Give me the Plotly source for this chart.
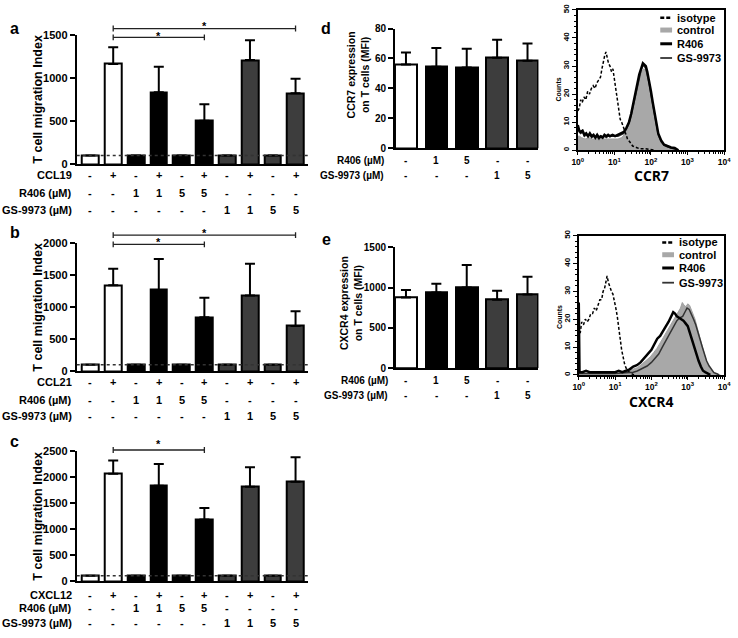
import plotly.graph_objects as go

W, H = 738, 638
FONT = "Liberation Sans, Arial, sans-serif"

# ---------------- data ----------------
bars10 = [0, 1, 2, 3, 4, 5, 6, 7, 8, 9]
bars5 = [0, 1, 2, 3, 4]
colors10 = ["white", "white", "black", "black", "black", "black", "#3d3d3d", "#3d3d3d", "#3d3d3d", "#3d3d3d"]
colors5 = ["white", "black", "black", "#3d3d3d", "#3d3d3d"]

chemokine_row = ["-", "+", "-", "+", "-", "+", "-", "+", "-", "+"]
r406_row10 = ["-", "-", "1", "1", "5", "5", "-", "-", "-", "-"]
gs_row10 = ["-", "-", "-", "-", "-", "-", "1", "1", "5", "5"]
r406_row5 = ["-", "1", "5", "-", "-"]
gs_row5 = ["-", "-", "-", "1", "5"]

a_vals = [100, 1168, 100, 836, 100, 504, 100, 1214, 100, 824]
a_err = [None, 195, None, 298, None, 194, None, 229, None, 172]
b_vals = [100, 1343, 100, 1272, 100, 841, 100, 1184, 100, 707]
b_err = [None, 261, None, 486, None, 308, None, 497, None, 231]
c_vals = [100, 2070, 100, 1837, 100, 1187, 100, 1818, 100, 1913]
c_err = [None, 254, None, 423, None, 221, None, 379, None, 474]
d_vals = [56, 54.5, 54, 60.5, 58.5]
d_err = [8, 12.5, 12.5, 12, 11.5]
e_vals = [878, 938, 1000, 848, 915]
e_err = [92, 110, 282, 112, 220]

# histogram CCR7 (log10 fluorescence, counts)
iso_d_exp = [0.00, 0.04, 0.08, 0.12, 0.17, 0.22, 0.27, 0.32, 0.37, 0.42, 0.47, 0.52, 0.57, 0.62, 0.66, 0.70, 0.74, 0.77, 0.80, 0.84, 0.88, 0.92, 0.96, 1.00, 1.04, 1.08, 1.12, 1.16, 1.20, 1.25, 1.30, 1.36, 1.42, 1.50, 1.60, 1.70, 1.85, 2.00, 2.10]
iso_d_cnt = [14, 15, 18, 17, 19, 18, 21, 20, 22, 23, 22, 24, 25, 26, 29, 32, 34, 35, 33, 31, 30, 28, 29, 25, 22, 18, 14, 11, 10, 8, 6, 4, 3, 1.5, 1, 0.5, 0.5, 0.3, 0]
ctl_d_exp = [0.00, 0.05, 0.10, 0.20, 0.30, 0.40, 0.50, 0.60, 0.70, 0.80, 0.90, 1.00, 1.10, 1.20, 1.30, 1.38, 1.45, 1.52, 1.58, 1.64, 1.70, 1.75, 1.80, 1.85, 1.90, 1.95, 2.00, 2.05, 2.10, 2.15, 2.20, 2.28, 2.36, 2.45, 2.55, 2.65, 2.72]
ctl_d_cnt = [5, 5, 4.5, 4, 4.5, 4, 4, 4.5, 4, 4, 4, 4, 4, 4.5, 6, 8, 11, 15, 19, 23, 26, 28, 29, 28.5, 27, 24, 20, 16, 12, 9, 6, 3.5, 2, 1.2, 1, 0.6, 0]
r406_d_exp = [0.00, 0.04, 0.08, 0.13, 0.18, 0.23, 0.28, 0.33, 0.38, 0.43, 0.48, 0.53, 0.58, 0.63, 0.68, 0.73, 0.78, 0.83, 0.88, 0.95, 1.02, 1.10, 1.18, 1.26, 1.33, 1.40, 1.46, 1.52, 1.58, 1.63, 1.68, 1.73, 1.78, 1.82, 1.86, 1.90, 1.95, 2.00, 2.05, 2.10, 2.15, 2.20, 2.28, 2.36, 2.45, 2.55, 2.65, 2.75]
r406_d_cnt = [9, 7, 6.5, 7, 5.5, 6, 5, 6, 5, 5.5, 4.5, 5.5, 4.5, 5, 4.5, 5.5, 5, 5.5, 5, 5.5, 5, 5.5, 6, 6.5, 8, 10, 13, 17, 21, 24, 27, 29, 31, 30.5, 30, 28, 25, 21, 17, 13, 9, 6, 3.5, 2, 1.5, 1, 0.8, 0]
gs_d_exp = [0.00, 0.04, 0.08, 0.13, 0.18, 0.23, 0.28, 0.33, 0.38, 0.43, 0.48, 0.53, 0.58, 0.63, 0.68, 0.73, 0.78, 0.83, 0.88, 0.95, 1.02, 1.10, 1.18, 1.26, 1.33, 1.40, 1.46, 1.52, 1.58, 1.63, 1.68, 1.73, 1.78, 1.82, 1.86, 1.90, 1.95, 2.00, 2.05, 2.10, 2.15, 2.20, 2.28, 2.36, 2.45, 2.55, 2.65, 2.75]
gs_d_cnt = [8, 6.5, 6, 6.5, 5, 5.5, 5, 5.5, 4.5, 5, 4.5, 5, 4, 5, 4.5, 5, 4.5, 5, 5, 5, 5, 5, 5.5, 6, 7.5, 9.5, 12.5, 16, 20, 23, 26, 28.5, 30, 30, 29, 27, 24, 20, 16, 12, 8.5, 5.5, 3, 1.8, 1.2, 0.8, 0.5, 0]

# histogram CXCR4
iso_e_exp = [0.00, 0.04, 0.08, 0.13, 0.18, 0.23, 0.28, 0.33, 0.38, 0.43, 0.48, 0.53, 0.58, 0.63, 0.67, 0.71, 0.75, 0.78, 0.82, 0.86, 0.90, 0.94, 0.98, 1.02, 1.06, 1.10, 1.14, 1.18, 1.22, 1.26, 1.30, 1.35, 1.42, 1.52]
iso_e_cnt = [17, 15, 19, 18, 20, 19, 20, 22, 22, 24, 23, 25, 27, 27, 30, 31, 34, 35.5, 33, 31, 30, 29, 27, 24, 21, 16, 13, 9, 6, 4, 2.5, 1.5, 0.7, 0]
ctl_e_exp = [0.0, 0.5, 1.0, 1.2, 1.35, 1.5, 1.61, 1.75, 1.88, 1.97, 2.06, 2.15, 2.24, 2.33, 2.42, 2.51, 2.6, 2.68, 2.74, 2.8, 2.85, 2.9, 2.95, 3.0, 3.05, 3.1, 3.15, 3.2, 3.26, 3.32, 3.38, 3.45, 3.52, 3.59, 3.68, 3.77, 3.9]
ctl_e_cnt = [0.5, 0.5, 0.5, 0.8, 1.4, 2, 2.6, 4, 5.5, 6.5, 8, 9.5, 11.5, 13.5, 16, 18, 19.5, 21.5, 23, 24, 26, 25, 24.5, 25.5, 25, 23.5, 22, 20, 17, 14, 10.5, 7, 4.5, 2.6, 1.2, 0.6, 0]
r406_e_exp = [0.00, 0.02, 0.10, 0.20, 0.30, 0.40, 0.50, 0.60, 0.70, 0.80, 0.90, 1.00, 1.10, 1.20, 1.30, 1.40, 1.50, 1.60, 1.70, 1.80, 1.90, 2.00, 2.08, 2.16, 2.24, 2.32, 2.40, 2.47, 2.54, 2.60, 2.65, 2.70, 2.76, 2.82, 2.88, 2.94, 3.00, 3.06, 3.12, 3.18, 3.24, 3.30, 3.36, 3.42, 3.48, 3.55, 3.62]
r406_e_cnt = [26, 1, 1, 1.5, 1, 1, 1, 1, 1, 1, 1, 1, 1.5, 1, 1.5, 2, 3, 3.5, 4.5, 6, 7.5, 9, 11, 13, 14, 16, 17.5, 19, 21, 22.5, 22, 21, 20.5, 20, 19.5, 18.5, 17.5, 15, 12.5, 10, 7, 5, 3, 1.5, 1, 0.5, 0]
gs_e_exp = [0.0, 0.5, 1.0, 1.3, 1.5, 1.61, 1.75, 1.88, 2.0, 2.1, 2.2, 2.3, 2.4, 2.5, 2.6, 2.7, 2.78, 2.86, 2.92, 2.98, 3.04, 3.1, 3.16, 3.22, 3.28, 3.34, 3.4, 3.46, 3.52, 3.59, 3.66, 3.72, 3.8, 3.86]
gs_e_cnt = [0.5, 0.5, 0.5, 0.8, 1, 1.4, 2.2, 3.2, 4.5, 6, 7.5, 10, 12.5, 15, 17.5, 19.5, 20.5, 21, 22.5, 24, 23.5, 22, 20, 18, 15, 12.5, 10, 7.5, 5, 3.2, 1.8, 0.8, 0.4, 0]

hist_legend = ["isotype", "control", "R406", "GS-9973"]
decade_vals = [1, 10, 100, 1000, 10000]
decade_labels = ["10<sup>0</sup>", "10<sup>1</sup>", "10<sup>2</sup>", "10<sup>3</sup>", "10<sup>4</sup>"]


# ---------------- helpers ----------------
def X(px):
    return px / W


def Y(py):
    return 1 - py / H


def f(size, family=FONT):
    return dict(family=family, size=size, color="black", weight="bold")


fig = go.Figure()
annotations = []
shapes = []


def bar_panel(n, xs, vals, errs, colors, width):
    xa = "x" if n == 1 else f"x{n}"
    ya = "y" if n == 1 else f"y{n}"
    fig.add_trace(go.Bar(
        x=xs, y=vals, width=width, xaxis=xa, yaxis=ya, showlegend=False,
        marker=dict(color=colors, line=dict(color="black", width=2)),
        error_y=dict(type="data", symmetric=False, array=errs,
                     arrayminus=[0] * len(xs), thickness=2, width=5, color="black"),
    ))


bar_panel(1, bars10, a_vals, a_err, colors10, 0.74)
bar_panel(2, bars10, b_vals, b_err, colors10, 0.74)
bar_panel(3, bars10, c_vals, c_err, colors10, 0.74)
bar_panel(4, bars5, d_vals, d_err, colors5, 0.71)
bar_panel(5, bars5, e_vals, e_err, colors5, 0.71)


def hist_panel(n, iso, ctl, r406, gs):
    xa, ya = f"x{n}", f"y{n}"
    fig.add_trace(go.Scatter(x=[10 ** e for e in ctl[0]], y=ctl[1], mode="lines", fill="tozeroy",
                             fillcolor="#a8a8a8", line=dict(color="#a0a0a0", width=1),
                             xaxis=xa, yaxis=ya, showlegend=False))
    fig.add_trace(go.Scatter(x=[10 ** e for e in iso[0]], y=iso[1], mode="lines",
                             line=dict(color="black", width=1.5, dash="3px,2px"),
                             xaxis=xa, yaxis=ya, showlegend=False))
    fig.add_trace(go.Scatter(x=[10 ** e for e in gs[0]], y=gs[1], mode="lines",
                             line=dict(color="#333333", width=1.5),
                             xaxis=xa, yaxis=ya, showlegend=False))
    fig.add_trace(go.Scatter(x=[10 ** e for e in r406[0]], y=r406[1], mode="lines",
                             line=dict(color="black", width=2.5),
                             xaxis=xa, yaxis=ya, showlegend=False))


hist_panel(6, (iso_d_exp, iso_d_cnt), (ctl_d_exp, ctl_d_cnt), (r406_d_exp, r406_d_cnt), (gs_d_exp, gs_d_cnt))
hist_panel(7, (iso_e_exp, iso_e_cnt), (ctl_e_exp, ctl_e_cnt), (r406_e_exp, r406_e_cnt), (gs_e_exp, gs_e_cnt))

layout_axes = {}


def bar_axes(n, xdom, xrange, ydom, ymax, yticks, tick_size):
    xk = "xaxis" if n == 1 else f"xaxis{n}"
    yk = "yaxis" if n == 1 else f"yaxis{n}"
    ya = "y" if n == 1 else f"y{n}"
    xa = "x" if n == 1 else f"x{n}"
    layout_axes[xk] = dict(domain=[X(xdom[0]), X(xdom[1])], range=xrange, anchor=ya,
                           showline=True, linewidth=2, linecolor="black", showticklabels=False,
                           ticks="", showgrid=False, zeroline=False, fixedrange=True)
    layout_axes[yk] = dict(domain=[Y(ydom[0]), Y(ydom[1])], range=[0, ymax], anchor=xa,
                           showline=True, linewidth=2, linecolor="black", tickvals=yticks,
                           ticks="outside", ticklen=5, tickwidth=2, tickcolor="black",
                           showgrid=False, zeroline=False, tickfont=f(tick_size))


bar_axes(1, (72, 307.5), [-0.6, 9.55], (161, 30), 1500, [0, 500, 1000, 1500], 11)
bar_axes(2, (72, 307.5), [-0.6, 9.55], (372, 242), 2000, [0, 500, 1000, 1500, 2000], 11)
bar_axes(3, (72, 307.5), [-0.6, 9.55], (586, 454), 2500, [0, 500, 1000, 1500, 2000, 2500], 11)
bar_axes(4, (396, 542), [-0.36, 4.36], (145, 23), 80, [0, 20, 40, 60, 80], 10)
bar_axes(5, (396, 542), [-0.36, 4.36], (369, 246), 1500, [0, 500, 1000, 1500], 10)

minor_log = [m * 10 ** d for d in range(4) for m in range(2, 10)]


def hist_axes(n, xdom, ydom):
    layout_axes[f"xaxis{n}"] = dict(domain=[X(xdom[0]), X(xdom[1])], type="log", range=[-0.001, 4.001],
                                    anchor=f"y{n}", showline=True, mirror=True, linewidth=1.5,
                                    linecolor="black", tickmode="array", tickvals=decade_vals,
                                    ticktext=decade_labels, ticks="outside", ticklen=3,
                                    tickwidth=1.2, tickcolor="black", showgrid=False,
                                    zeroline=False, tickfont=f(8.5), ticklabeloverflow="allow",
                                    minor=dict(tickmode="array", tickvals=minor_log, ticks="outside",
                                               ticklen=2, tickwidth=1, tickcolor="black", showgrid=False))
    layout_axes[f"yaxis{n}"] = dict(domain=[Y(ydom[0]), Y(ydom[1])], range=[0, 50],
                                    anchor=f"x{n}", showline=True, mirror=True, linewidth=1.5,
                                    linecolor="black", tickvals=[0, 10, 20, 30, 40, 50],
                                    ticks="outside", ticklen=4, tickwidth=1.2, tickcolor="black",
                                    tickangle=-90, showgrid=False, zeroline=False, tickfont=f(8),
                                    minor=dict(dtick=2, ticks="outside", ticklen=2, tickwidth=1,
                                               tickcolor="black", showgrid=False))


hist_axes(6, (582, 731), (147, 4))
hist_axes(7, (583, 731), (376, 234))


def ann(text, x, y, size, xref="paper", xanchor="center", angle=0, family=FONT):
    annotations.append(dict(text=text, x=x if xref != "paper" else X(x), y=Y(y), xref=xref,
                            yref="paper", xanchor=xanchor, yanchor="middle", showarrow=False,
                            textangle=angle, font=f(size, family)))


# row labels under bar panels
def rows(n, xs, row_defs, label_right, size):
    xr = "x" if n == 1 else f"x{n}"
    for label, values, ypx in row_defs:
        ann(label, label_right, ypx, size, xanchor="right")
        for xi, v in zip(xs, values):
            ann(v, xi, ypx, size, xref=xr)


rows(1, bars10, [("CCL19", chemokine_row, 172.5), ("R406 (µM)", r406_row10, 191), ("GS-9973 (µM)", gs_row10, 208)], 69, 11)
rows(2, bars10, [("CCL21", chemokine_row, 383), ("R406 (µM)", r406_row10, 402), ("GS-9973 (µM)", gs_row10, 418)], 69, 11)
rows(3, bars10, [("CXCL12", chemokine_row, 600), ("R406 (µM)", r406_row10, 614), ("GS-9973 (µM)", gs_row10, 629)], 69, 11)
rows(4, bars5, [("R406 (µM)", r406_row5, 157), ("GS-9973 (µM)", gs_row5, 173)], 387, 10)
rows(5, bars5, [("R406 (µM)", r406_row5, 382), ("GS-9973 (µM)", gs_row5, 397)], 391, 10)

# y titles
ann("T cell migration Index", 33, 95, 12.5, angle=-90)
ann("T cell migration Index", 33, 307, 12.5, angle=-90)
ann("T cell migration Index", 33, 520, 12.5, angle=-90)
ann("CCR7 expression<br>on T cells (MFI)", 358, 70, 10.5, angle=-90)
ann("CXCR4 expression<br>on T cells (MFI)", 352, 303, 10.5, angle=-90)

# panel letters
for letter, lx, ly in [("a", 9, 23), ("b", 9, 231), ("c", 9, 444), ("d", 326, 23), ("e", 326, 238)]:
    ann(letter, lx, ly, 16)

# histogram titles
ann("CCR7", 657, 173, 14, family="Open Sans, Liberation Sans, sans-serif")
ann("CXCR4", 657, 403, 14, family="Open Sans, Liberation Sans, sans-serif")
ann("Counts", 562, 85, 7, angle=-90)
ann("Counts", 563, 317, 7, angle=-90)


# significance brackets
def bracket(n, i0, i1, ypx, star_ypx):
    xr = "x" if n == 1 else f"x{n}"
    shapes.append(dict(type="line", xref=xr, yref="paper", x0=i0, x1=i1, y0=Y(ypx), y1=Y(ypx),
                       line=dict(color="#222222", width=1.3)))
    for xi in (i0, i1):
        shapes.append(dict(type="line", xref=xr, yref="paper", x0=xi, x1=xi, y0=Y(ypx - 3), y1=Y(ypx + 3),
                           line=dict(color="#222222", width=1.3)))
    annotations.append(dict(text="*", x=(i0 + i1) / 2, y=Y(star_ypx), xref=xr, yref="paper",
                            showarrow=False, yanchor="middle", font=f(11)))


bracket(1, 1, 9, 23, 20)
bracket(1, 1, 5, 32, 31)
bracket(2, 1, 9, 233.5, 231)
bracket(2, 1, 5, 243, 241)
bracket(3, 1, 5, 452.5, 446)

# dotted baseline at 100
for n in (1, 2, 3):
    xr = "x" if n == 1 else f"x{n}"
    yr = "y" if n == 1 else f"y{n}"
    shapes.append(dict(type="line", xref=xr + " domain", yref=yr, x0=0, x1=1.01, y0=100, y1=100,
                       line=dict(color="#333333", width=1.5, dash="dot")))


# histogram legends (drawn manually inside the plot frames)
def hist_leg(x0, x1, tx, ys):
    styles = [dict(color="black", width=2.5, dash="4px,2px"),
              dict(color="#a8a8a8", width=5),
              dict(color="black", width=3),
              dict(color="#333333", width=1.8)]
    for name, yy, st in zip(hist_legend, ys, styles):
        shapes.append(dict(type="line", xref="paper", yref="paper", x0=X(x0), x1=X(x1), y0=Y(yy), y1=Y(yy), line=st))
        ann(name, tx, yy, 11, xanchor="left")


hist_leg(666, 678, 681, [12, 24.5, 38.5, 53])
hist_leg(668, 680, 683, [241, 253.5, 267, 282])

fig.update_layout(width=W, height=H, autosize=False, margin=dict(l=0, r=0, t=0, b=0),
                  paper_bgcolor="white", plot_bgcolor="white", bargap=0,
                  font=f(11), annotations=annotations, shapes=shapes, **layout_axes)

fig.write_html("out.html", config={"displayModeBar": False},
               post_script="document.body.style.margin='0px';document.body.style.overflow='hidden';")
